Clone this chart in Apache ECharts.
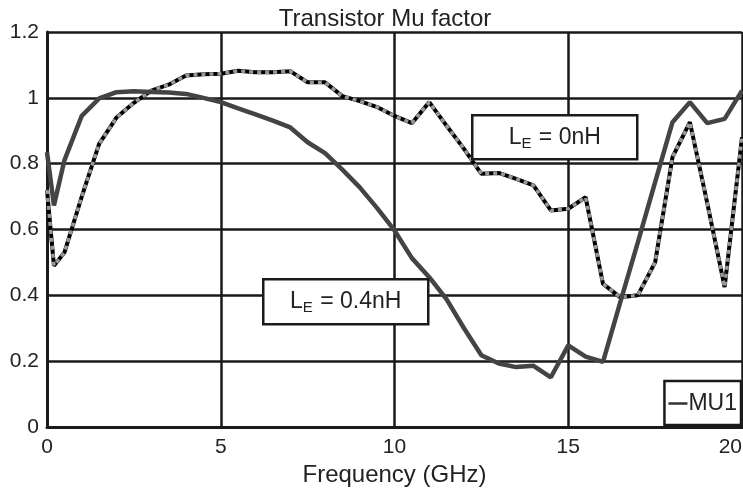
<!DOCTYPE html>
<html>
<head>
<meta charset="utf-8">
<script src="https://cdn.jsdelivr.net/npm/echarts@6/dist/echarts.min.js"></script>
<style>
  html, body { margin: 0; padding: 0; background: #fff; }
  #mu-chart { width: 743px; height: 489px; }
</style>
</head>
<body>
<div id="mu-chart"></div>
<script>
// frequency points (GHz)
var freq = [0, 0.2, 0.5, 1, 1.5, 2, 2.5, 3, 3.5, 4, 4.5, 5, 5.5, 6, 6.5, 7, 7.5, 8, 8.5, 9, 9.5,
            10, 10.5, 11, 11.5, 12, 12.5, 13, 13.5, 14, 14.5, 15, 15.5, 16, 16.5, 17, 17.5, 18, 18.5, 19, 19.5, 20];

// MU1 with LE = 0.4nH (solid)
var muLe04 = [0.835, 0.673, 0.81, 0.945, 0.998, 1.017, 1.020, 1.018, 1.016, 1.012, 1.000, 0.987, 0.968, 0.950, 0.931, 0.910,
              0.865, 0.832, 0.782, 0.728, 0.665, 0.597, 0.513, 0.455, 0.388, 0.300, 0.218, 0.193, 0.182, 0.186, 0.151,
              0.248, 0.214, 0.198, 0.380, 0.560, 0.744, 0.926, 0.987, 0.923, 0.936, 1.022];

// MU1 with LE = 0nH (dotted)
var muLe0 = [0.72, 0.49, 0.53, 0.70, 0.86, 0.94, 0.985, 1.022, 1.040, 1.068, 1.072, 1.073, 1.082, 1.078, 1.078, 1.081,
             1.047, 1.047, 1.005, 0.990, 0.972, 0.945, 0.923, 0.987, 0.915, 0.845, 0.769, 0.772, 0.754, 0.734, 0.658,
             0.663, 0.698, 0.435, 0.394, 0.400, 0.500, 0.820, 0.926, 0.680, 0.425, 0.880];

var xTicks = [0, 5, 10, 15, 20];
var yTicks = [0, 0.2, 0.4, 0.6, 0.8, 1, 1.2];

function pairs(xs, ys) {
    var out = [];
    for (var i = 0; i < xs.length; i++) out.push([xs[i], ys[i]]);
    return out;
}

var font = '"Liberation Sans", Arial, sans-serif';
var mu_chart = echarts.init(document.getElementById('mu-chart'));

// white boxed label "L_E = ..."
function annotation(x, y, w, h, value) {
    return {
        type: 'group',
        left: x, top: y,
        z: 100,
        children: [
            { type: 'rect', z: 100, shape: { x: 0, y: 0, width: w, height: h },
              style: { fill: '#fff', stroke: '#1a1a1a', lineWidth: 2.5 } },
            { type: 'text', z: 101, x: w / 2, y: h / 2,
              style: {
                  text: '{a|L}{s|E}{a| = ' + value + '}',
                  align: 'center', verticalAlign: 'middle',
                  rich: {
                      a: { fontFamily: font, fontSize: 23, fill: '#222', lineHeight: 28 },
                      s: { fontFamily: font, fontSize: 15, fill: '#222', lineHeight: 28, padding: [13, 1, 0, 0] }
                  }
              } }
        ]
    };
}

mu_chart.setOption({
    animation: false,
    backgroundColor: '#fff',
    title: {
        text: 'Transistor Mu factor',
        left: 380, top: 2,
        textAlign: 'center',
        textStyle: { fontFamily: font, fontSize: 24, fontWeight: 'normal', color: '#222' }
    },
    grid: { left: 47, right: 1, top: 32, bottom: 62, containLabel: false, outerBoundsMode: 'none' },
    legend: {
        data: ['MU1'],
        right: 2, bottom: 64,
        orient: 'vertical',
        backgroundColor: '#fff',
        borderColor: '#1a1a1a', borderWidth: 2.5, borderRadius: 0,
        padding: [11, 4, 10, 4],
        icon: 'rect', itemWidth: 19, itemHeight: 2.5, itemGap: 0,
        textStyle: { fontFamily: font, fontSize: 23, color: '#222', padding: [0, 0, 0, -4] },
        z: 100
    },
    xAxis: {
        type: 'value',
        min: 0, max: 20, interval: 5,
        name: 'Frequency (GHz)',
        nameLocation: 'middle', nameGap: 36,
        nameTextStyle: { fontFamily: font, fontSize: 24, color: '#222' },
        axisLine: { show: true, lineStyle: { color: '#1a1a1a', width: 3 } },
        axisTick: { show: false },
        axisLabel: { fontFamily: font, fontSize: 21, color: '#222', margin: 10, alignMaxLabel: 'right',
                     formatter: function (v) { return xTicks.indexOf(v) >= 0 ? String(v) : ''; } },
        splitLine: { show: true, lineStyle: { color: '#1a1a1a', width: 2.5 } }
    },
    yAxis: {
        type: 'value',
        min: 0, max: 1.2, interval: 0.2,
        axisLine: { show: true, lineStyle: { color: '#1a1a1a', width: 3 } },
        axisTick: { show: false },
        axisLabel: { fontFamily: font, fontSize: 21, color: '#222', margin: 8,
                     formatter: function (v) { return String(yTicks[Math.round(v / 0.2)]); } },
        splitLine: { show: true, lineStyle: { color: '#1a1a1a', width: 2.5 } }
    },
    series: [
        {
            name: 'MU1 0nH base',
            type: 'line',
            data: pairs(freq, muLe0),
            showSymbol: false,
            lineStyle: { color: '#000', width: 4 },
            z: 3
        },
        {
            name: 'MU1 0nH',
            type: 'line',
            data: pairs(freq, muLe0),
            showSymbol: false,
            lineStyle: { color: '#999', width: 3.5, type: [4, 4] },
            z: 4
        },
        {
            name: 'MU1',
            type: 'line',
            data: pairs(freq, muLe04),
            showSymbol: false,
            color: '#333',
            lineStyle: { color: '#444', width: 4.5 },
            z: 5
        }
    ],
    graphic: [
        annotation(471, 114, 165, 44, '0nH'),
        annotation(262, 278, 165, 45, '0.4nH')
    ]
});
</script>
</body>
</html>
